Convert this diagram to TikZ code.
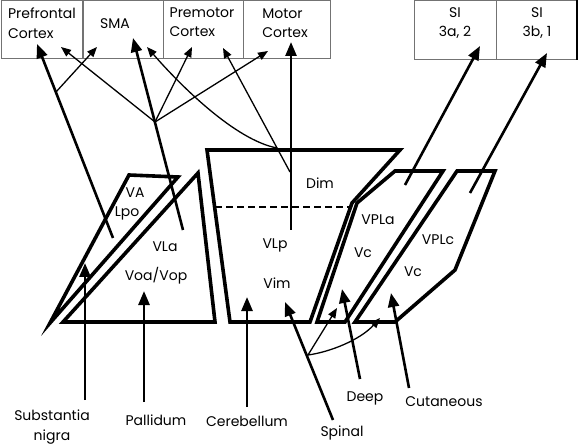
\documentclass[tikz,border=0pt]{standalone}
\usepackage{fontspec}
\setmainfont{Poppins}
\usetikzlibrary{arrows.meta}
\begin{document}
\begin{tikzpicture}[x=1pt,y=-1pt,
  region/.style={line width=3.6pt, line join=miter},
  thickarrow/.style={line width=2.6pt,-{Triangle[length=14pt,width=11pt]}},
  thinarrow/.style={line width=1.3pt,-{Triangle[length=10pt,width=8pt]}},
  lbl/.style={font=\fontsize{14}{19.5}\selectfont, inner sep=0pt, align=center},
  box/.style={draw=black!55, line width=0.8pt, inner sep=0pt}]
\useasboundingbox (0,0) rectangle (578,446);

% cortex boxes
\node[box, minimum width=82pt, minimum height=58pt, anchor=north west] (pfcbox) at (0.5,0.5) {};
\node[box, minimum width=81pt, minimum height=58pt, anchor=north west] (smabox) at (82,0.5) {};
\node[box, minimum width=80pt, minimum height=58pt, anchor=north west] (pmbox) at (163,0.5) {};
\node[box, minimum width=87pt, minimum height=58pt, anchor=north west] (mbox) at (243,0.5) {};
\node[box, minimum width=82pt, minimum height=58.5pt, anchor=north west] (si1box) at (414,0.5) {};
\node[box, minimum width=81pt, minimum height=58.5pt, anchor=north west] (si2box) at (496,0.5) {};
\draw[line width=2pt] (si2box.north east) ++(-1,0) coordinate (sie1) -- (si2box.south east -| sie1);

\node[lbl, align=left] (pfc) at (42,23) {Prefrontal\\Cortex};
\node[lbl] (sma) at (115,24) {SMA};
\node[lbl, align=left] (pm) at (202,22) {Premotor\\Cortex};
\node[lbl, align=left] (mc) at (285,23) {Motor\\Cortex};
\node[lbl] (si1) at (455,23) {SI\\3a, 2};
\node[lbl] (si2) at (537,23) {SI\\3b, 1};

% thalamic regions
\draw[region] (129,175) -- (178,177) -- (50,323) -- cycle;
\draw[region] (198,173) -- (215,322) -- (63,322) -- cycle;
\draw[region] (207,150) -- (400,150) -- (352,203) -- (310,322) -- (230,322) -- cycle;
\draw[line width=1.5pt, dash pattern=on 7pt off 4pt] (215,207) -- (350,207);
\draw[region] (395,171) -- (443,171) -- (345,322) -- (317,322) -- (357,203) -- cycle;
\draw[region] (457,171) -- (495,171) -- (455,270) -- (395,322) -- (355,322) -- cycle;

\node[lbl] (va) at (135,193) {VA};
\node[lbl] (lpo) at (127,213) {Lpo};
\node[lbl] (vla) at (165,247) {VLa};
\node[lbl] (voa) at (156,276) {Voa/Vop};
\node[lbl] (dim) at (320,183) {Dim};
\node[lbl] (vlp) at (275,245) {VLp};
\node[lbl] (vim) at (277,283) {Vim};
\node[lbl] (vpla) at (378,220) {VPLa};
\node[lbl] (vc1) at (363,253) {Vc};
\node[lbl] (vplc) at (438,240) {VPLc};
\node[lbl] (vc2) at (413,272) {Vc};

% bottom labels
\node[lbl] (sn) at (52,427) {Substantia\\nigra};
\node[lbl] (pal) at (156,420) {Pallidum};
\node[lbl] (cer) at (247,421) {Cerebellum};
\node[lbl] (spi) at (342,433) {Spinal};
\node[lbl] (deep) at (365,398) {Deep};
\node[lbl] (cut) at (444,402) {Cutaneous};

% coordinates
\coordinate (lpoS) at (113,238);  \coordinate (pfcT) at (37,44);
\coordinate (vlaS) at (183,230);  \coordinate (smaT) at (133,38);
\coordinate (dimS) at (291,230);  \coordinate (mcT) at (291,42);
\coordinate (vplaS) at (405,185); \coordinate (si1T) at (480,46);
\coordinate (vplcS) at (470,193); \coordinate (si2T) at (547,53);
\coordinate (snS) at (85,400);    \coordinate (snT) at (85,263);
\coordinate (palS) at (144,402);  \coordinate (palT) at (144,291);
\coordinate (cerS) at (247,407);  \coordinate (cerT) at (247,297);
\coordinate (spiS) at (333,420);  \coordinate (spiT) at (285,302);
\coordinate (deepS) at (360,379); \coordinate (deepT) at (342,289);
\coordinate (cutS) at (409,388);  \coordinate (cutT) at (391,293);
\coordinate (b1) at (56,92);      \coordinate (smaT2) at (97,47);
\coordinate (j1) at (155,122);
\coordinate (pfcT2) at (61,47);   \coordinate (pmT) at (192,47); \coordinate (mcT2) at (268,51);
\coordinate (b2) at (290,172);    \coordinate (pmT2) at (223,48);
\coordinate (b3) at (277,148);    \coordinate (smaT3) at (147,47);
\coordinate (j2) at (308,355);    \coordinate (vplaT) at (337,308); \coordinate (vplcT) at (380,318);

% thick arrows
\foreach \s/\t in {lpoS/pfcT, vlaS/smaT, dimS/mcT, vplaS/si1T, vplcS/si2T, snS/snT, palS/palT, cerS/cerT, spiS/spiT, deepS/deepT, cutS/cutT}
  \draw[thickarrow] (\s) -- (\t);

% thin arrows
\draw[thinarrow] (b1) -- (smaT2);
\draw[thinarrow] (j1) -- (pfcT2);
\draw[thinarrow] (j1) -- (pmT);
\draw[thinarrow] (j1) -- (mcT2);
\draw[thinarrow] (b2) -- (pmT2);
\draw[thinarrow] (b3) .. controls (235,140) and (180,85) .. (smaT3);
\draw[thinarrow] (j2) -- (vplaT);
\draw[thinarrow] (j2) .. controls (330,352) and (360,340) .. (vplcT);
\end{tikzpicture}
\end{document}
